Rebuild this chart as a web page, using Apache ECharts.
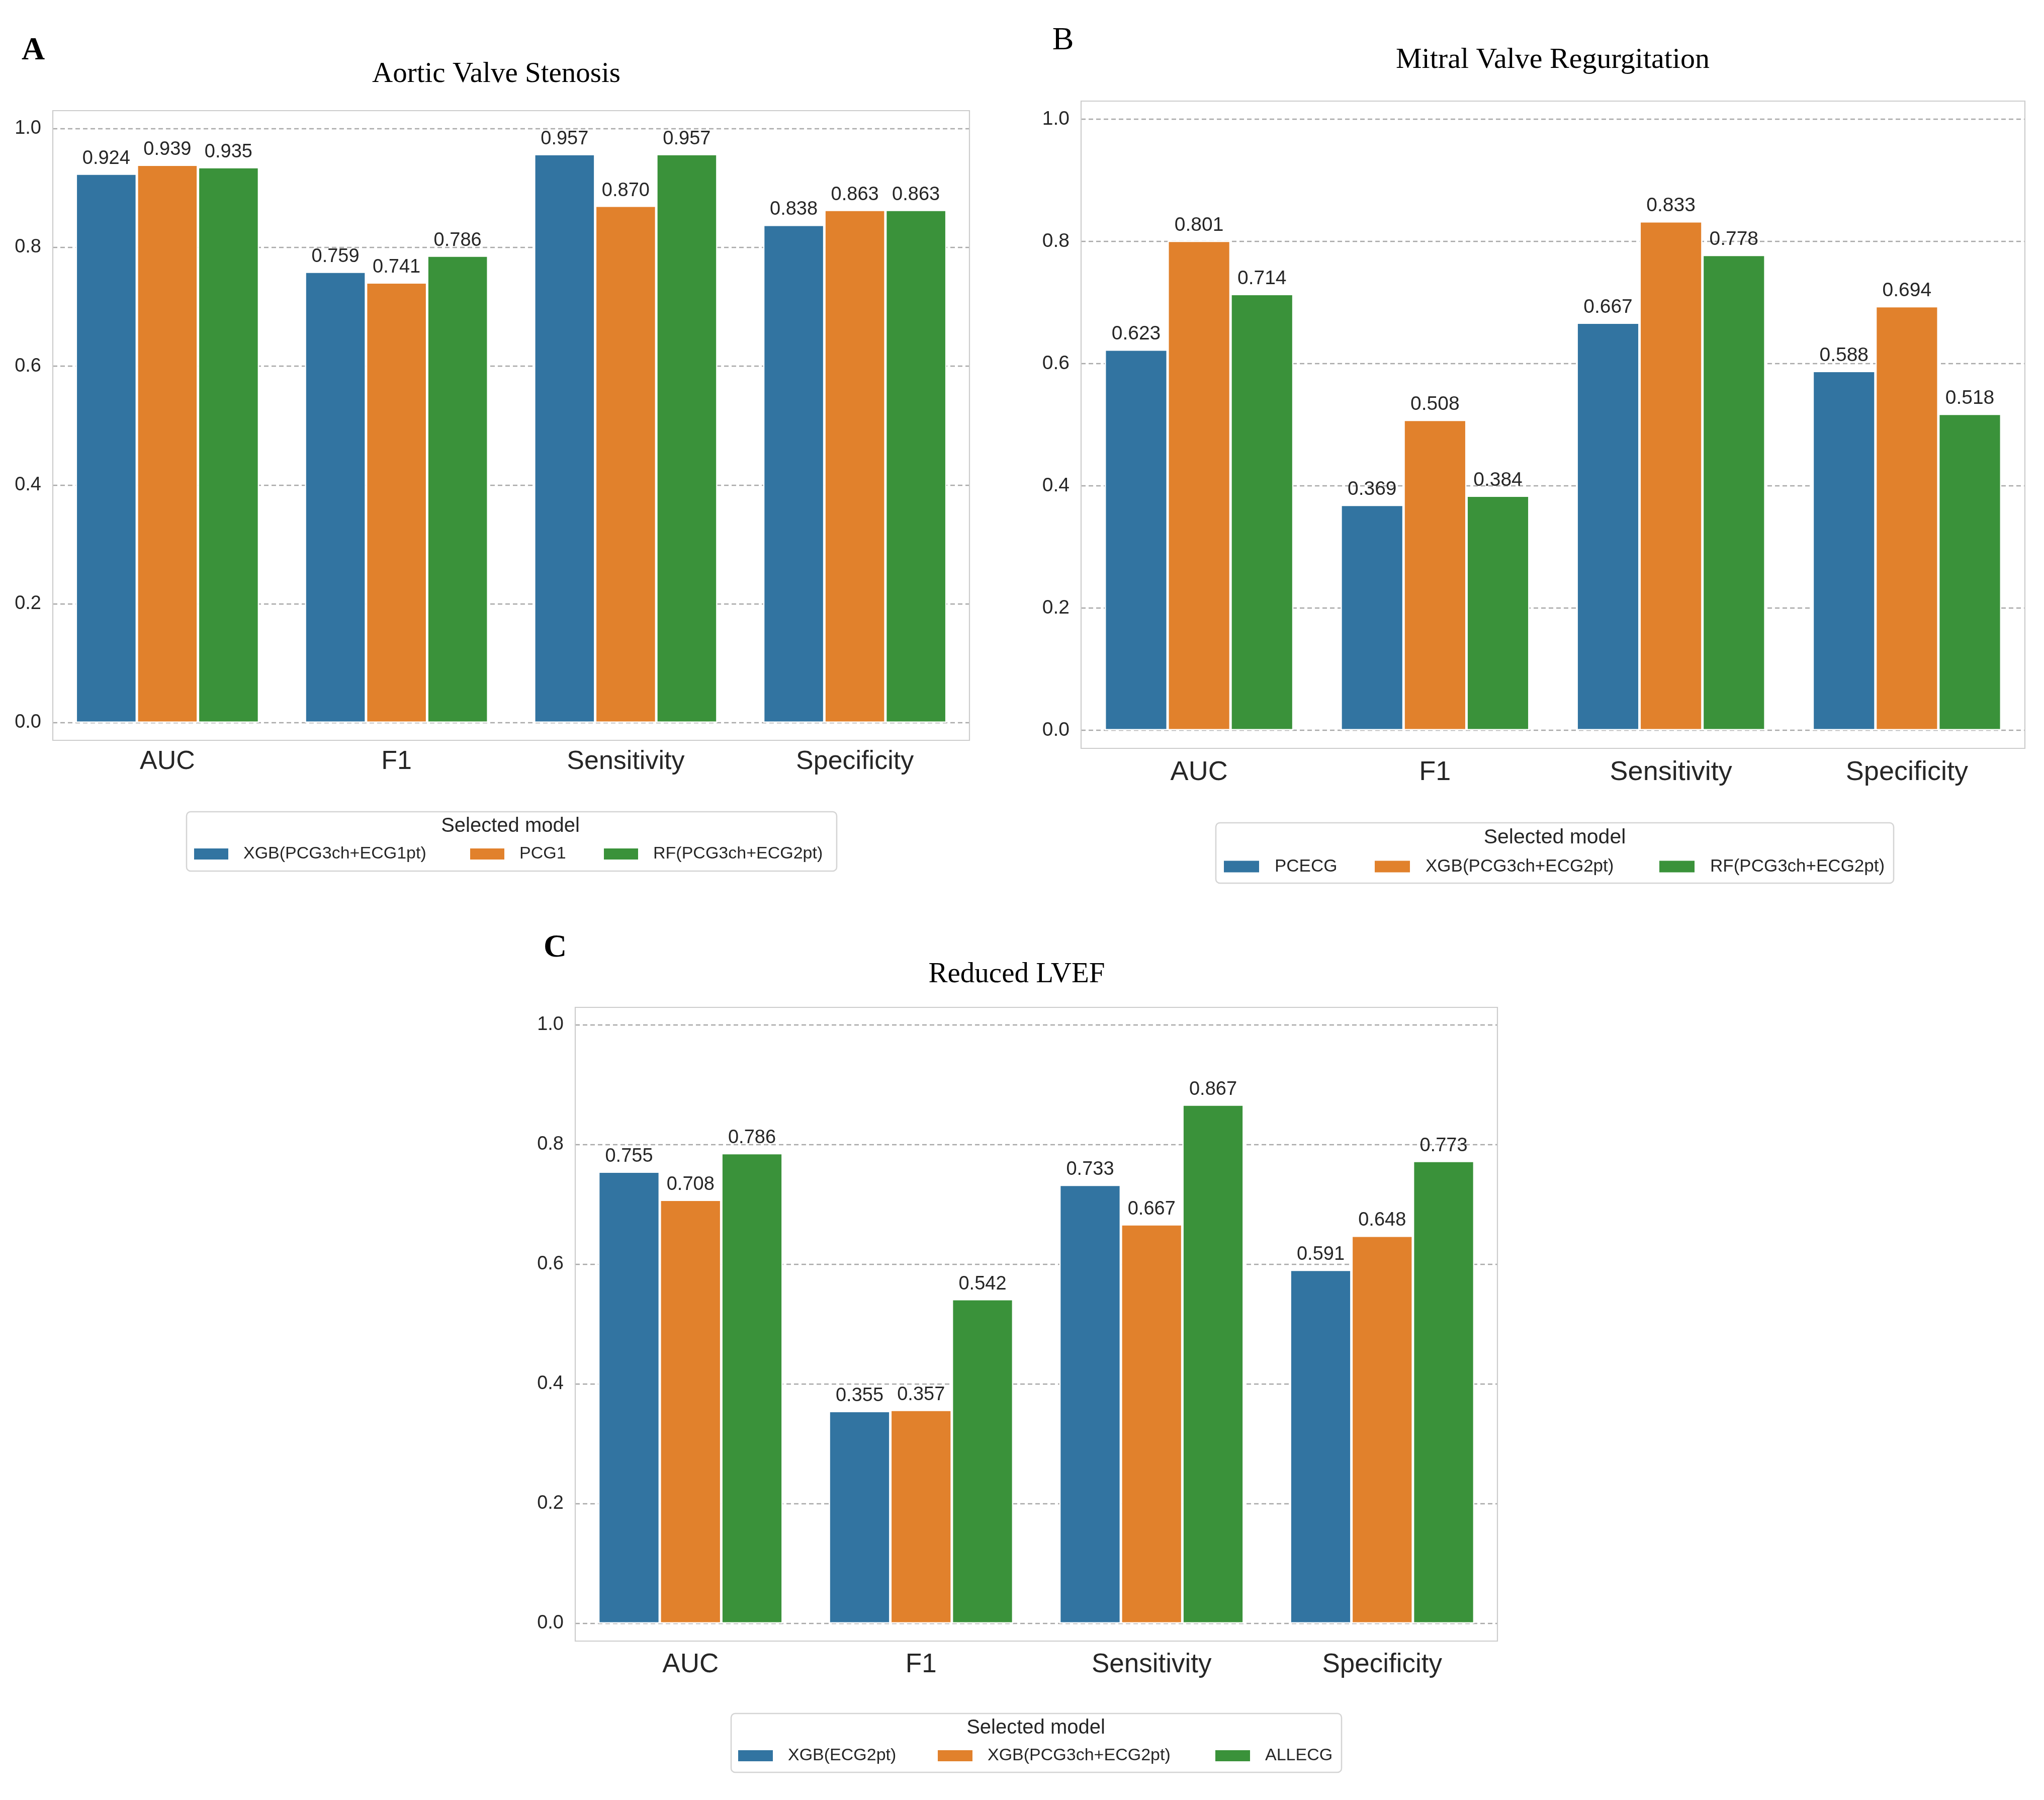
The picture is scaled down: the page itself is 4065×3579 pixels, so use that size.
<!DOCTYPE html>
<html>
<head>
<meta charset="utf-8">
<style>
  html, body { margin: 0; padding: 0; background: #ffffff; }
  #chart { width: 4065px; height: 3579px; }
</style>
<script src="https://cdn.jsdelivr.net/npm/echarts@6.0.0/dist/echarts.min.js"></script>
</head>
<body>
<div id="chart"></div>
<script>
// ---------------- DATA ----------------
const categories = ["AUC", "F1", "Sensitivity", "Specificity"];
const yTickStep = 0.2;

// Panel A: Aortic Valve Stenosis
const titleA = "Aortic Valve Stenosis";
const modelsA = ["XGB(PCG3ch+ECG1pt)", "PCG1", "RF(PCG3ch+ECG2pt)"];
const valuesA_XGB = [0.924, 0.759, 0.957, 0.838];
const valuesA_PCG1 = [0.939, 0.741, 0.870, 0.863];
const valuesA_RF = [0.935, 0.786, 0.957, 0.863];

// Panel B: Mitral Valve Regurgitation
const titleB = "Mitral Valve Regurgitation";
const modelsB = ["PCECG", "XGB(PCG3ch+ECG2pt)", "RF(PCG3ch+ECG2pt)"];
const valuesB_PCECG = [0.623, 0.369, 0.667, 0.588];
const valuesB_XGB = [0.801, 0.508, 0.833, 0.694];
const valuesB_RF = [0.714, 0.384, 0.778, 0.518];

// Panel C: Reduced LVEF
const titleC = "Reduced LVEF";
const modelsC = ["XGB(ECG2pt)", "XGB(PCG3ch+ECG2pt)", "ALLECG"];
const valuesC_XGB_ECG = [0.755, 0.355, 0.733, 0.591];
const valuesC_XGB_PCG = [0.708, 0.357, 0.667, 0.648];
const valuesC_ALLECG = [0.786, 0.542, 0.867, 0.773];

const legendTitle = "Selected model";

// ---------------- STYLE / LAYOUT ----------------
const palette = ["#3274a1", "#e1812c", "#3a923a"];
const SANS = '"Liberation Sans", Arial, Helvetica, sans-serif';
const SERIF = '"Liberation Serif", "Times New Roman", serif';
const TXT = "#262626";

const panels = [
  {
    letter: "A", letterPos: [66, 101], letterWeight: "bold",
    title: titleA, titlePos: [987, 148], titleSize: 57,
    models: modelsA, values: [valuesA_XGB, valuesA_PCG1, valuesA_RF],
    data: { left: 105, top: 255.5, width: 1823, height: 1181.5 },
    frame: { left: 105, top: 220, width: 1823, height: 1252 },
    tick: 38, val: 38, cat: 52, catMargin: 52,
    leg: { box: [371, 1614, 1293, 118], markers: [386, 935, 1201], rowY: 1698,
           font: 34, tfont: 40, tX: 1015, tY: 1643, iw: 68, ih: 22, tg: 25 }
  },
  {
    letter: "B", letterPos: [2114, 81], letterWeight: "normal",
    title: titleB, titlePos: [3088, 120], titleSize: 58,
    models: modelsB, values: [valuesB_PCECG, valuesB_XGB, valuesB_RF],
    data: { left: 2150, top: 237, width: 1877, height: 1215 },
    frame: { left: 2150, top: 201, width: 1877, height: 1287 },
    tick: 39, val: 39, cat: 54, catMargin: 57,
    leg: { box: [2418, 1636, 1348, 120], markers: [2434, 2734, 3300], rowY: 1723,
           font: 35, tfont: 41, tX: 3092, tY: 1666, iw: 70, ih: 23, tg: 26 }
  },
  {
    letter: "C", letterPos: [1104, 1885], letterWeight: "bold",
    title: titleC, titlePos: [2022, 1938], titleSize: 57,
    models: modelsC, values: [valuesC_XGB_ECG, valuesC_XGB_PCG, valuesC_ALLECG],
    data: { left: 1144, top: 2038, width: 1834, height: 1190 },
    frame: { left: 1144, top: 2003, width: 1834, height: 1260 },
    tick: 38, val: 38, cat: 53, catMargin: 56,
    leg: { box: [1454, 3407, 1214, 117], markers: [1468, 1865, 2417], rowY: 3491,
           font: 34, tfont: 40, tX: 2060, tY: 3436, iw: 69, ih: 22, tg: 25 }
  }
];

const grids = [], xAxes = [], yAxes = [], series = [], legends = [], graphics = [];

panels.forEach((p, i) => {
  grids.push(Object.assign({ containLabel: false }, p.data));
  xAxes.push({
    gridIndex: i, type: "category", data: categories,
    axisLine: { show: false }, axisTick: { show: false },
    axisLabel: { fontSize: p.cat, color: TXT, fontFamily: SANS, margin: p.catMargin },
    splitLine: { show: false }
  });
  yAxes.push({
    gridIndex: i, type: "value", min: 0, max: 1, interval: yTickStep,
    axisLine: { show: false }, axisTick: { show: false },
    axisLabel: { fontSize: p.tick, color: TXT, fontFamily: SANS, margin: 23, formatter: v => v.toFixed(1) },
    splitLine: { show: true, lineStyle: { color: "#a8a8a8", width: 2.4, type: [9, 6] } }
  });
  p.models.forEach((m, k) => {
    series.push({
      type: "bar", name: m, xAxisIndex: i, yAxisIndex: i,
      data: p.values[k],
      barGap: "0%", barCategoryGap: "20%",
      itemStyle: { color: palette[k], borderColor: "#ffffff", borderWidth: 2.5 },
      label: {
        show: true, position: "top", distance: 11,
        formatter: q => Number(q.value).toFixed(3),
        fontSize: p.val, color: TXT, fontFamily: SANS
      },
      emphasis: { disabled: true }
    });
  });
  // legend: one legend component per entry, inside a rounded frame
  const L = p.leg;
  p.models.forEach((m, k) => {
    legends.push({
      data: [m], orient: "horizontal",
      left: L.markers[k], top: L.rowY - L.font / 2,
      padding: 0, itemWidth: L.iw, itemHeight: L.ih,
      icon: "rect", selectedMode: false, z: 10,
      itemStyle: { borderWidth: 0 },
      textStyle: { fontSize: L.font, color: TXT, fontFamily: SANS, padding: [0, 0, 0, L.tg] }
    });
  });
  graphics.push({
    type: "rect", z: 1,
    shape: { x: L.box[0], y: L.box[1], width: L.box[2], height: L.box[3], r: 8 },
    style: { fill: "#ffffff", stroke: "#d4d4d4", lineWidth: 2.5 }
  });
  graphics.push({
    type: "text", x: L.tX, y: L.tY, z: 5,
    style: { text: legendTitle, fontSize: L.tfont, fontFamily: SANS, fill: TXT, align: "center", verticalAlign: "middle" }
  });
  graphics.push({
    type: "text", x: p.titlePos[0], y: p.titlePos[1],
    style: { text: p.title, fontSize: p.titleSize, fontFamily: SERIF, fill: "#000000", align: "center", verticalAlign: "middle" }
  });
  graphics.push({
    type: "text", x: p.letterPos[0], y: p.letterPos[1],
    style: { text: p.letter, fontSize: 64, fontWeight: p.letterWeight, fontFamily: SERIF, fill: "#000000", align: "center", verticalAlign: "middle" }
  });
});

// frame grids (axes box outline)
panels.forEach((p, i) => {
  const gi = grids.length;
  grids.push(Object.assign({ show: true, borderColor: "#cccccc", borderWidth: 2.2, backgroundColor: "transparent", z: 1 }, p.frame));
  xAxes.push({ gridIndex: gi, type: "value", show: false, min: 0, max: 1 });
  yAxes.push({ gridIndex: gi, type: "value", show: false, min: 0, max: 1 });
});

const chart = echarts.init(document.getElementById("chart"), null, { renderer: "canvas" });
chart.setOption({
  animation: false,
  backgroundColor: "#ffffff",
  grid: grids, xAxis: xAxes, yAxis: yAxes,
  legend: legends, series: series, graphic: graphics
});
</script>
</body>
</html>
